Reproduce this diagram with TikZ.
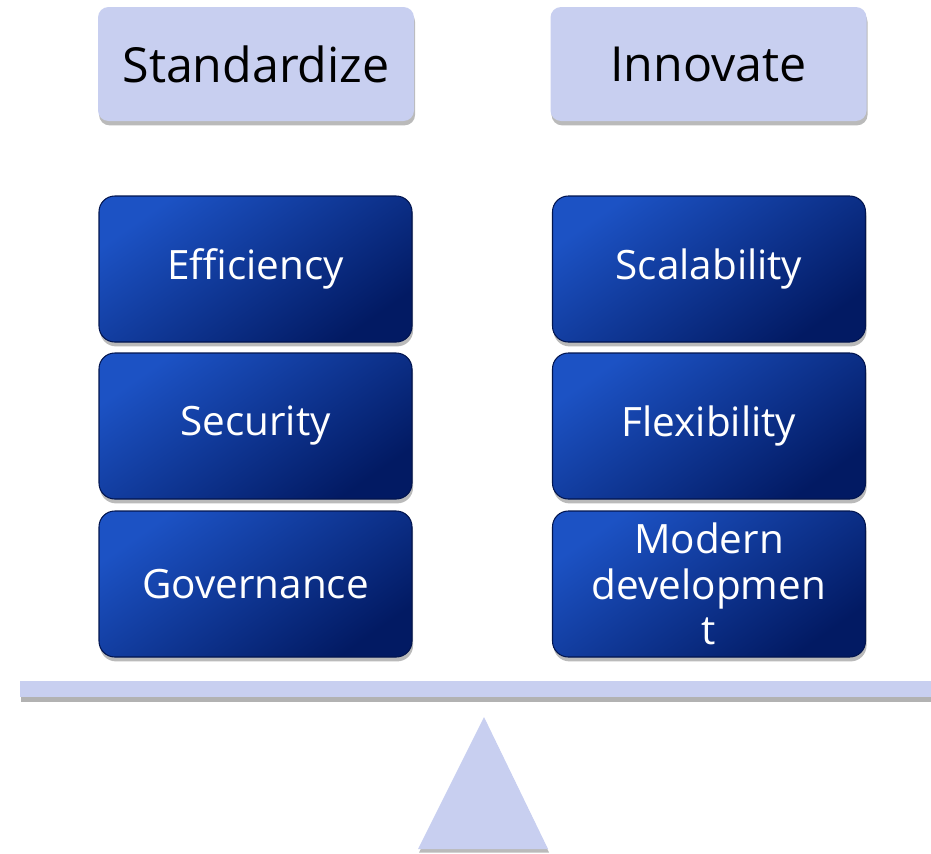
\documentclass[tikz,border=0pt]{standalone}
\usepackage{fontspec}
\setmainfont{Open Sans}
\usepackage{tikz}
\usetikzlibrary{shadows}
\definecolor{paleblue}{HTML}{C8CFF0}
\definecolor{topblue}{HTML}{1C52C4}
\definecolor{navy}{HTML}{021A63}
\tikzstyle{header}=[
    rectangle, rounded corners=6pt,
    fill=paleblue,
    minimum width=6.32cm, minimum height=2.28cm,
    font=\fontsize{27.5}{30}\selectfont,
    drop shadow={shadow xshift=0.6pt, shadow yshift=-2.5pt, fill=black!60, opacity=.45}
]
\tikzstyle{pill}=[
    rectangle, rounded corners=9pt,
    left color=topblue, right color=navy, shading angle=35,
    draw=navy!80!black, line width=0.6pt,
    minimum width=6.26cm, minimum height=2.92cm,
    text=white, align=center,
    font=\fontsize{23}{26}\selectfont,
    drop shadow={shadow xshift=0.6pt, shadow yshift=-2.5pt, fill=black!60, opacity=.45}
]

\begin{document}
\begin{tikzpicture}
        \useasboundingbox (0,0) rectangle (18.62,-17.06);

        % headers
        \node[header] (std) at (5.12,-1.28) {Standardize};
        \node[header] (inn) at (14.17,-1.28) {Innovate};

        % left stack
        \node[pill] (eff) at (5.11,-5.38) {Efficiency};
        \node[pill] (sec) at (5.11,-8.52) {Security};
        \node[pill] (gov) at (5.11,-11.68) {Governance};

        % right stack
        \node[pill] (sca) at (14.18,-5.38) {Scalability};
        \node[pill] (fle) at (14.18,-8.52) {Flexibility};
        \node[pill] (mod) at (14.18,-11.68) {Modern\\developmen\\t};

        % beam and pivot
        \fill[paleblue, drop shadow={shadow xshift=0.6pt, shadow yshift=-3pt, fill=black!60, opacity=.5}]
            (0.4,-13.62) rectangle (18.62,-13.94);
        \fill[paleblue, drop shadow={shadow xshift=0.6pt, shadow yshift=-2pt, fill=black!60, opacity=.45}]
            (9.68,-14.34) -- (10.96,-16.98) -- (8.36,-16.98) -- cycle;
    \end{tikzpicture}
\end{document}
